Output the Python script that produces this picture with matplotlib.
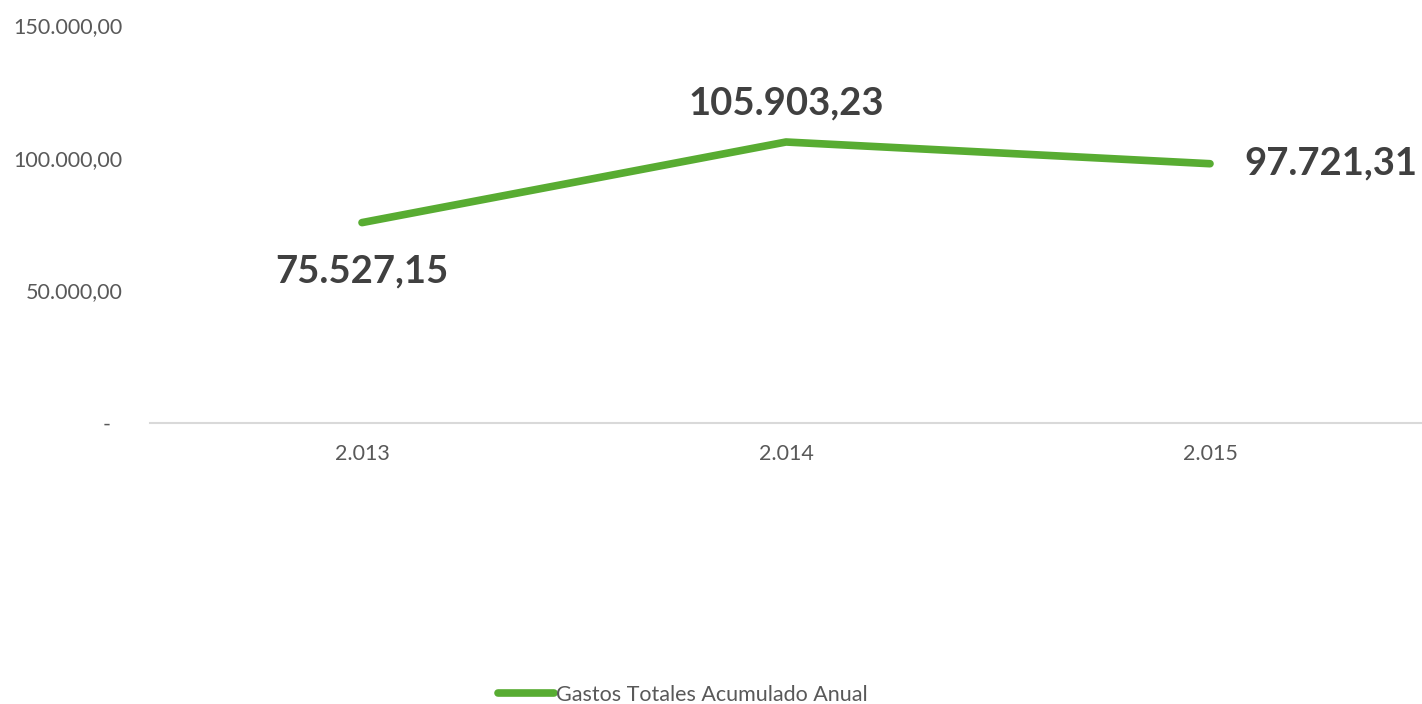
import matplotlib
matplotlib.use("Agg")
import matplotlib.pyplot as plt

plt.rcParams['font.family'] = ['Lato', 'DejaVu Sans']

# Data
years = ['2.013', '2.014', '2.015']
gastos = [75527.15, 105903.23, 97721.31]
y_ticks = [0, 50000, 100000, 150000]
y_tick_labels = ['-  ', '50.000,00', '100.000,00', '150.000,00']
series_name = 'Gastos Totales Acumulado Anual'

line_color = '#58ac32'
text_color = '#595959'
label_color = '#404040'


def fmt(v):
    s = f'{v:,.2f}'
    return s.replace(',', 'X').replace('.', ',').replace('X', '.')


fig = plt.figure(figsize=(14.22, 7.04), dpi=100)
ax = fig.add_axes([150 / 1422, 281 / 704, 1 - 150 / 1422, 398 / 704])

x = list(range(len(years)))
line, = ax.plot(x, gastos, color=line_color, linewidth=5.5,
                solid_capstyle='round', label=series_name)

ax.set_xlim(-0.5, len(years) - 0.5)
ax.set_ylim(0, 150000)
ax.set_xticks(x)
ax.set_xticklabels(years)
ax.set_yticks(y_ticks)
ax.set_yticklabels(y_tick_labels)
ax.tick_params(axis='both', length=0, colors=text_color, labelsize=15.5)
ax.tick_params(axis='y', pad=20)
ax.tick_params(axis='x', pad=15)

for side in ['top', 'right', 'left']:
    ax.spines[side].set_visible(False)
ax.spines['bottom'].set_color('#d9d9d9')
ax.spines['bottom'].set_linewidth(1.5)

# data labels: below, above, right
offsets = [(0, -35, 'center'), (0, 28, 'center'), (25, 0, 'left')]
for xi, v, (dx, dy, ha) in zip(x, gastos, offsets):
    ax.annotate(fmt(v), (xi, v), xytext=(dx, dy), textcoords='offset points',
                ha=ha, va='center', fontsize=27.5, fontweight='bold',
                color=label_color)

leg = fig.legend(handles=[line], loc='center', bbox_to_anchor=(683 / 1422, 1 - 695 / 704),
                 frameon=False, fontsize=15.5, handlelength=2.6, handletextpad=0.1)
for t in leg.get_texts():
    t.set_color(text_color)

fig.savefig('out.png', dpi=100, facecolor='white')
